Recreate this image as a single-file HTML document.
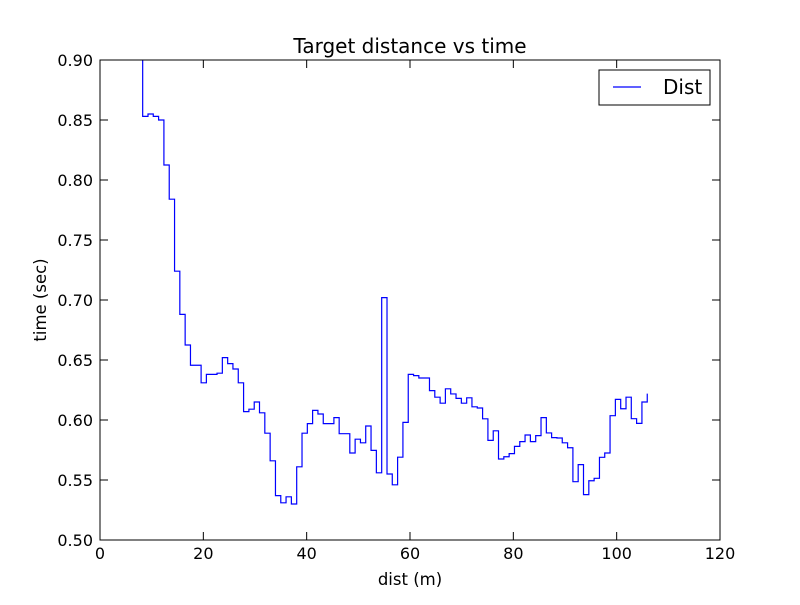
<!DOCTYPE html>
<html><head><meta charset="utf-8"><style>
body{margin:0;background:#fff;}
svg text{font-family:"DejaVu Sans","Liberation Sans",sans-serif;fill:#000;}
</style></head><body>
<svg id="chart" width="800" height="600" xmlns="http://www.w3.org/2000/svg">
<rect width="800" height="600" fill="#fff"/>
<defs><clipPath id="clip"><rect x="100" y="60" width="620" height="480"/></clipPath></defs>
<path id="series" fill="none" stroke="#0000ff" stroke-width="1.2" clip-path="url(#clip)"/>
<rect x="100" y="60" width="620" height="480" fill="none" stroke="#000" stroke-width="1"/>
<g id="ticks"></g>
<text x="410" y="53" font-size="20" text-anchor="middle">Target distance vs time</text>
<text x="410" y="585" font-size="16.5" text-anchor="middle">dist (m)</text>
<text x="46" y="300" font-size="16.5" text-anchor="middle" transform="rotate(-90 46 300)">time (sec)</text>
<g>
<rect x="599" y="70" width="111" height="35" fill="#fff" stroke="#000" stroke-width="1"/>
<line x1="613" y1="87" x2="641" y2="87" stroke="#0000ff" stroke-width="1.2"/>
<text x="663" y="94" font-size="20">Dist</text>
</g>
</svg>
<script>
const xTicks=[0,20,40,60,80,100,120];
const yTicks=[0.50,0.55,0.60,0.65,0.70,0.75,0.80,0.85,0.90];
const dist=[7.23,8.26,9.29,10.31,11.34,12.37,13.40,14.43,15.45,16.48,17.51,18.54,19.57,20.59,21.62,22.65,23.68,24.71,25.73,26.76,27.79,28.82,29.85,30.87,31.90,32.93,33.96,34.99,36.01,37.04,38.07,39.10,40.13,41.15,42.18,43.21,44.24,45.27,46.29,47.32,48.35,49.38,50.41,51.43,52.46,53.49,54.52,55.55,56.57,57.60,58.63,59.66,60.69,61.71,62.74,63.77,64.80,65.83,66.85,67.88,68.91,69.94,70.97,71.99,73.02,74.05,75.08,76.11,77.13,78.16,79.19,80.22,81.25,82.27,83.30,84.33,85.36,86.39,87.41,88.44,89.47,90.50,91.53,92.55,93.58,94.61,95.64,96.67,97.69,98.72,99.75,100.78,101.81,102.83,103.86,104.89,105.92];
const time=[1.0,0.853,0.855,0.853,0.850,0.8125,0.784,0.724,0.688,0.6625,0.6456,0.6456,0.631,0.638,0.638,0.639,0.652,0.647,0.6425,0.631,0.607,0.609,0.615,0.606,0.589,0.566,0.537,0.531,0.536,0.530,0.561,0.589,0.597,0.608,0.605,0.597,0.597,0.602,0.5886,0.5886,0.5725,0.584,0.581,0.595,0.5747,0.556,0.702,0.555,0.546,0.569,0.598,0.638,0.637,0.635,0.635,0.6245,0.619,0.614,0.626,0.6217,0.618,0.614,0.6185,0.611,0.610,0.601,0.583,0.591,0.5675,0.5694,0.572,0.578,0.582,0.5875,0.582,0.587,0.602,0.5892,0.5853,0.585,0.581,0.5769,0.5486,0.5628,0.5378,0.5494,0.5514,0.5689,0.5725,0.6036,0.6172,0.6094,0.619,0.6011,0.5972,0.615,0.622];
const X=v=>100+(v-0)/120*620;
const Y=v=>540-(v-0.5)/0.4*480;
const NS="http://www.w3.org/2000/svg";
let d="M"+X(dist[0])+","+Y(time[0]);
for(let i=1;i<dist.length;i++){d+=" H"+X(dist[i])+" V"+Y(time[i]);}
document.getElementById('series').setAttribute('d',d);
const g=document.getElementById('ticks');
function mk(tag,attrs){const e=document.createElementNS(NS,tag);for(const k in attrs)e.setAttribute(k,attrs[k]);g.appendChild(e);return e;}
xTicks.forEach(t=>{
 const x=X(t);
 const a=mk('line',{x1:x,y1:540,x2:x,y2:532,stroke:'#000'});
 
 
 const b=mk('line',{x1:x,y1:60,x2:x,y2:68,stroke:'#000'});
 
 
 const l=mk('text',{x:x,y:559,'font-size':16,'text-anchor':'middle'});
 l.textContent=String(t);
 
 
});
yTicks.forEach(t=>{
 const y=Y(t);
 const a=mk('line',{x1:100,y1:y,x2:108,y2:y,stroke:'#000'});
 
 
 const b=mk('line',{x1:720,y1:y,x2:712,y2:y,stroke:'#000'});
 
 
 const l=mk('text',{x:93,y:y+6,'font-size':16,'text-anchor':'end'});
 l.textContent=t.toFixed(2);
 
 
});
</script>
</body></html>
